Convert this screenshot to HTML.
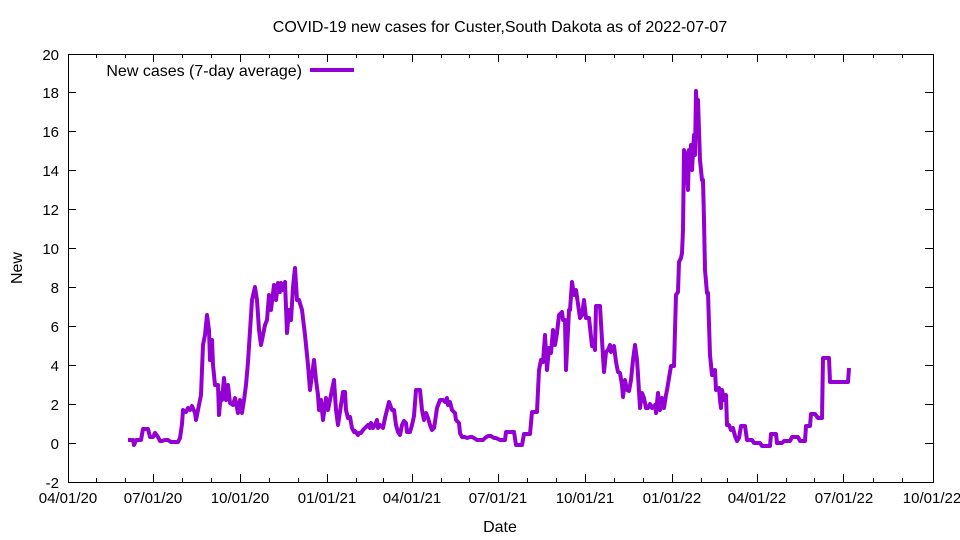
<!DOCTYPE html>
<html><head><meta charset="utf-8"><style>body{margin:0;background:#fff}svg{display:block}text{font-family:"Liberation Sans",sans-serif;font-size:15px;fill:#000}</style></head><body>
<svg width="960" height="540" viewBox="0 0 960 540">
<rect x="68.5" y="54.5" width="865" height="428" fill="none" stroke="#000" stroke-width="1"/>
<g stroke="#000" stroke-width="1">
<path d="M68 482.5h8M68 443.5h8M68 404.5h8M68 365.5h8M68 326.5h8M68 287.5h8M68 248.5h8M68 209.5h8M68 170.5h8M68 131.5h8M68 92.5h8M68 54.5h8
M933 482.5h-8M933 443.5h-8M933 404.5h-8M933 365.5h-8M933 326.5h-8M933 287.5h-8M933 248.5h-8M933 209.5h-8M933 170.5h-8M933 131.5h-8M933 92.5h-8"/>
<path d="M153.5 482v-8M240.5 482v-8M327.5 482v-8M412.5 482v-8M498.5 482v-8M585.5 482v-8M672.5 482v-8M757.5 482v-8M843.5 482v-8
M153.5 54v8M240.5 54v8M327.5 54v8M412.5 54v8M498.5 54v8M585.5 54v8M672.5 54v8M757.5 54v8M843.5 54v8"/>
<path d="M96.5 482v-4M125.5 482v-4M182.5 482v-4M211.5 482v-4M269.5 482v-4M298.5 482v-4M356.5 482v-4M383.5 482v-4M441.5 482v-4M469.5 482v-4M527.5 482v-4M556.5 482v-4M614.5 482v-4M643.5 482v-4M701.5 482v-4M727.5 482v-4M786.5 482v-4M814.5 482v-4M873.5 482v-4M902.5 482v-4
M96.5 54v4M125.5 54v4M182.5 54v4M211.5 54v4M269.5 54v4M298.5 54v4M356.5 54v4M383.5 54v4M441.5 54v4M469.5 54v4M527.5 54v4M556.5 54v4M614.5 54v4M643.5 54v4M701.5 54v4M727.5 54v4M786.5 54v4M814.5 54v4M873.5 54v4M902.5 54v4"/>
</g>
<g text-anchor="end">
<text x="59" y="488">-2</text><text x="59" y="449">0</text><text x="59" y="410">2</text><text x="59" y="371">4</text><text x="59" y="332">6</text><text x="59" y="293">8</text><text x="59" y="254">10</text><text x="59" y="215">12</text><text x="59" y="176">14</text><text x="59" y="137">16</text><text x="59" y="98">18</text><text x="59" y="60">20</text>
</g>
<g text-anchor="middle">
<text x="68" y="503">04/01/20</text><text x="153" y="503">07/01/20</text><text x="240" y="503">10/01/20</text><text x="327" y="503">01/01/21</text><text x="412" y="503">04/01/21</text><text x="498" y="503">07/01/21</text><text x="585" y="503">10/01/21</text><text x="672" y="503">01/01/22</text><text x="757" y="503">04/01/22</text><text x="844" y="503">07/01/22</text><text x="932" y="503">10/01/22</text>
<text x="500" y="532" style="font-size:16px">Date</text>
<text x="500" y="32" style="font-size:16px">COVID-19 new cases for Custer,South Dakota as of 2022-07-07</text>
<text x="22" y="268" transform="rotate(-90 22 268)" style="font-size:16px">New</text>
</g>
<text x="302" y="76" text-anchor="end" style="font-size:16px">New cases (7-day average)</text>
<path d="M310 70h44" stroke="#9400d3" stroke-width="4"/>
<polyline fill="none" stroke="#9400d3" stroke-width="4" stroke-linejoin="round" points="128,440 133,440 134,445 136,440 141,440 143,429 148,429 150,437 153,437 155,433 158,437 160,441 162,441 165,440 168,440 171,442 178,442 180,438 182,424 183,410 186,412 188,408 190,410 192,406 195,413 196,420 199,405 201,395 203,345 205,335 207,315 209,330 210,360 212,340 213,365 215,385 218,385 219,415 221,393 222,400 224,378 226,400 228,385 230,403 233,405 235,398 238,413 240,400 242,413 244,400 246,385 248,362 252,300 255,287 257,300 259,330 261,345 263,335 265,325 267,320 269,295 271,310 274,285 276,300 278,283 280,292 281,283 283,290 285,282 287,333 289,310 291,320 293,287 295,268 297,300 299,300 302,310 305,335 308,365 310,390 312,375 314,360 316,380 318,395 319,410 321,400 323,420 326,398 328,410 331,395 334,380 336,410 338,425 341,405 343,392 345,392 346,410 348,418 350,417 352,428 354,432 355,431 358,435 359,433 361,433 363,430 365,428 368,425 370,428 371,423 373,428 375,425 377,420 378,428 380,425 383,428 385,418 389,402 392,410 394,410 396,425 398,432 400,435 402,425 404,421 406,423 407,432 410,432 412,425 414,416 416,390 418,390 420,390 422,410 424,420 426,413 428,418 430,425 432,430 434,428 435,422 437,408 440,400 443,400 445,402 447,398 448,405 450,402 452,410 455,413 456,420 459,423 460,433 462,437 465,437 467,438 470,437 472,437 474,438 477,440 480,440 483,440 485,438 488,436 491,436 494,438 496,438 500,440 505,440 506,432 514,432 516,445 522,445 524,434 530,434 532,412 537,412 539,370 541,360 543,362 545,335 547,370 549,348 551,353 553,330 555,345 557,333 559,315 562,312 563,320 565,320 566,370 568,330 569,310 570,310 572,282 574,295 576,290 578,304 580,318 582,315 584,300 586,318 589,318 592,346 594,346 595,350 596,306 600,306 602,340 604,372 606,352 608,350 610,345 611,352 614,346 616,362 618,372 620,373 622,385 623,397 625,380 627,390 629,391 631,380 633,360 635,345 637,360 638,375 640,408 642,393 644,398 646,408 648,408 650,404 652,408 655,405 656,413 658,393 660,410 662,398 664,408 666,395 667,390 671,366 674,366 676,295 678,292 679,262 681,258 682,253 683,230 684,150 686,155 688,190 689,150 690,168 691,145 692,170 694,135 695,155 696,91 697,115 698,100 700,160 702,180 703,180 704,220 705,270 707,293 708,293 710,355 712,375 714,375 715,370 716,390 719,388 720,400 721,408 722,390 724,400 726,395 727,425 729,425 731,430 733,428 735,436 737,441 739,438 741,426 745,426 747,440 752,440 754,443 760,443 762,446 770,446 771,434 776,434 777,443 782,443 784,441 790,441 792,437 798,437 800,441 805,441 806,426 810,426 811,414 815,414 818,418 822,418 823,358 829,358 830,382 848,382 849,368"/>
</svg>
</body></html>
